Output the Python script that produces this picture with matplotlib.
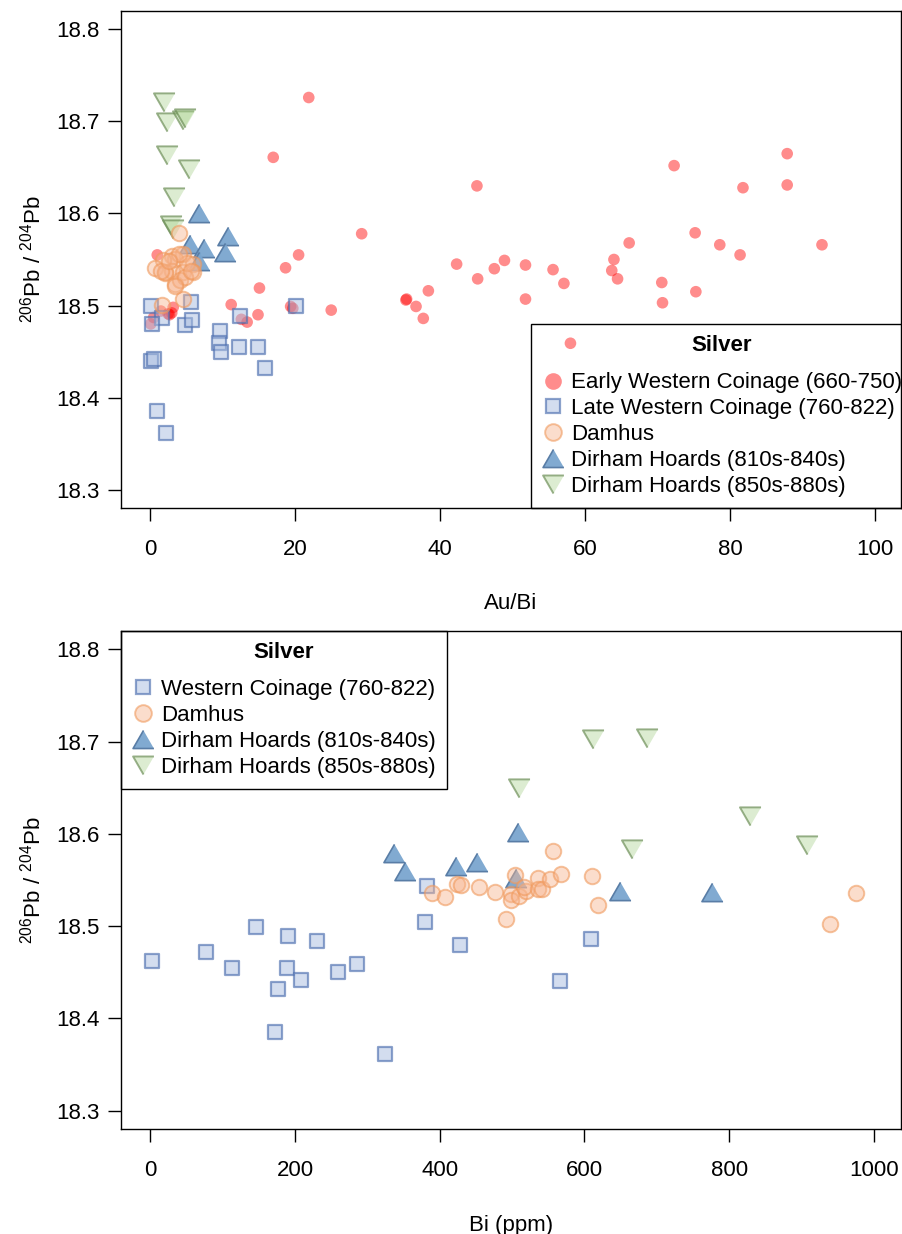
import matplotlib
matplotlib.use("Agg")
import matplotlib.pyplot as plt
from matplotlib.lines import Line2D

plt.rcParams['font.family'] = ['Liberation Sans', 'DejaVu Sans']
plt.rcParams['mathtext.fontset'] = 'custom'
plt.rcParams['mathtext.rm'] = 'Liberation Sans'
plt.rcParams['mathtext.it'] = 'Liberation Sans'

# ---------------- Top panel data (Au/Bi vs 206Pb/204Pb) ----------------
early_aubi = [21.9, 17.0, 45.1, 72.3, 87.9, 87.9, 81.8, 75.2, 78.6, 81.4, 92.7, 66.1,
              64.0, 63.7, 64.5, 57.1, 70.6, 70.7, 75.3, 58.0, 29.2, 20.5, 42.3, 45.2,
              47.5, 48.9, 51.8, 55.6, 51.8, 38.4, 35.3, 35.4, 36.7, 37.7, 25.0, 1.0,
              18.7, 15.1, 11.2, 14.9, 12.6, 13.4, 19.4, 19.7, 3.2, 2.7, 0.5, 0.1, 2.5,
              3.0, 1.5]
early_pb = [18.726, 18.661, 18.630, 18.652, 18.665, 18.631, 18.628, 18.579, 18.566,
            18.555, 18.566, 18.568, 18.550, 18.538, 18.529, 18.524, 18.525, 18.503,
            18.515, 18.459, 18.578, 18.555, 18.545, 18.529, 18.540, 18.549, 18.544,
            18.539, 18.507, 18.516, 18.506, 18.507, 18.499, 18.486, 18.495, 18.555,
            18.541, 18.519, 18.501, 18.490, 18.485, 18.482, 18.499, 18.497, 18.498,
            18.490, 18.487, 18.480, 18.491, 18.492, 18.494]

late_aubi = [0.2, 5.7, 1.7, 0.3, 4.8, 5.8, 12.4, 20.2, 9.6, 9.5, 9.8, 12.3, 14.9,
             15.8, 0.1, 0.6, 1.0, 2.2]
late_pb = [18.500, 18.504, 18.486, 18.480, 18.479, 18.484, 18.489, 18.499, 18.472,
           18.459, 18.450, 18.455, 18.455, 18.432, 18.440, 18.442, 18.385, 18.361]

damhus_aubi = [4.0, 3.0, 4.6, 3.4, 1.8, 0.7, 2.1, 3.0, 4.6, 6.0, 6.0, 3.4, 4.1, 4.8,
               5.1, 4.6, 1.6, 3.4, 5.7, 2.1, 1.5, 4.0, 2.6]
damhus_pb = [18.579, 18.554, 18.556, 18.551, 18.550, 18.541, 18.535, 18.538, 18.536,
             18.545, 18.536, 18.523, 18.528, 18.531, 18.546, 18.507, 18.501, 18.521,
             18.538, 18.536, 18.537, 18.556, 18.548]

d810_aubi = [6.8, 10.7, 5.5, 7.4, 10.4, 6.8]
d810_pb = [18.600, 18.576, 18.567, 18.563, 18.558, 18.548]

d850_aubi = [1.9, 2.3, 4.6, 4.8, 2.3, 5.4, 3.3, 2.9, 3.2]
d850_pb = [18.721, 18.699, 18.702, 18.704, 18.664, 18.648, 18.618, 18.587, 18.583]

# ---------------- Bottom panel data (Bi ppm vs 206Pb/204Pb) ----------------
west_bi = [3, 77, 113, 146, 190, 231, 189, 208, 177, 260, 286, 173, 325, 382, 379,
           428, 609, 566]
west_pb = [18.462, 18.472, 18.455, 18.499, 18.489, 18.484, 18.455, 18.442, 18.432,
           18.450, 18.459, 18.385, 18.361, 18.544, 18.504, 18.479, 18.486, 18.441]

damhus_bi = [389, 408, 424, 429, 455, 477, 504, 498, 498, 509, 519, 516, 536, 536,
             542, 552, 568, 556, 491, 611, 619, 975, 939]
damhus_pb2 = [18.536, 18.532, 18.546, 18.545, 18.542, 18.537, 18.555, 18.535, 18.528,
              18.533, 18.538, 18.542, 18.552, 18.540, 18.540, 18.551, 18.557, 18.581,
              18.508, 18.554, 18.523, 18.536, 18.502]

d810_bi = [337, 352, 423, 452, 508, 506, 649, 777]
d810_pb2 = [18.5795, 18.560, 18.565, 18.569, 18.602, 18.552, 18.538, 18.537]

d850_bi = [612, 687, 510, 829, 908, 666]
d850_pb2 = [18.703, 18.704, 18.650, 18.619, 18.588, 18.584]

top_labels = ["Early Western Coinage (660-750)", "Late Western Coinage (760-822)",
              "Damhus", "Dirham Hoards (810s-840s)", "Dirham Hoards (850s-880s)"]
bottom_labels = ["Western Coinage (760-822)", "Damhus",
                 "Dirham Hoards (810s-840s)", "Dirham Hoards (850s-880s)"]
yticks = [18.3, 18.4, 18.5, 18.6, 18.7, 18.8]

# ---------------- styles ----------------
FS = 16
up_tri = [(0, 0.866), (-1, -0.866), (1, -0.866)]
dn_tri = [(0, -0.866), (-1, 0.866), (1, 0.866)]

red_sty = dict(marker='o', s=70, facecolor=(1, 0, 0, 0.45), edgecolor='none', zorder=2)
sq_sty = dict(marker='s', s=110, facecolor=(0.66, 0.74, 0.88, 0.5),
              edgecolor=(0.31, 0.44, 0.69, 0.65), linewidths=1.6, zorder=3)
or_sty = dict(marker='o', s=125, facecolor=(0.97, 0.71, 0.56, 0.45),
              edgecolor=(0.94, 0.60, 0.36, 0.6), linewidths=1.4, zorder=5)
bt_sty = dict(marker=up_tri, s=230, facecolor=(0.48, 0.65, 0.81, 0.95),
              edgecolor=(0.35, 0.49, 0.65, 1.0), linewidths=1.2, zorder=4)
gt_sty = dict(marker=dn_tri, s=230, facecolor=(0.66, 0.82, 0.55, 0.4),
              edgecolor=(0.43, 0.56, 0.35, 0.7), linewidths=1.4, zorder=4)

def handle(sty, ms):
    return Line2D([], [], linestyle='none', marker=sty['marker'], markersize=ms,
                  markerfacecolor=sty['facecolor'], markeredgecolor=sty['edgecolor'],
                  markeredgewidth=sty.get('linewidths', 0))

fig = plt.figure(figsize=(9.02, 12.34), dpi=100)

def style_axes(ax, xticks):
    ax.set_yticks(yticks)
    ax.set_yticklabels([f"{v:.1f}" for v in yticks])
    ax.set_xticks(xticks)
    ax.tick_params(direction='out', length=9.5, width=1, labelsize=FS)
    ax.tick_params(axis='y', pad=6)
    ax.tick_params(axis='x', pad=13)
    for sp in ax.spines.values():
        sp.set_linewidth(1)
    ax.set_ylim(18.28, 18.82)
    ax.set_ylabel(r'$^{206}\mathrm{Pb}\ /\ ^{204}\mathrm{Pb}$', fontsize=FS)
    ax.yaxis.set_label_coords(-0.097, 0.5)

def make_legend(ax, handles, labels, loc, anchor):
    leg = ax.legend(handles, labels, loc=loc, bbox_to_anchor=anchor, borderaxespad=0,
                    frameon=True, fancybox=False, edgecolor='black',
                    fontsize=FS, title='Silver',
                    title_fontproperties={'weight': 'bold', 'size': FS},
                    handletextpad=0.3, labelspacing=0.22, borderpad=0.5,
                    handlelength=1.0)
    fr = leg.get_frame()
    fr.set_facecolor('none')
    fr.set_edgecolor('black')
    fr.set_linewidth(1)
    fr.set_alpha(None)
    leg._legend_box.sep = 11.5
    return leg

# ---- top ----
ax1 = fig.add_axes([121 / 902, 1 - 508 / 1234, 780 / 902, 497 / 1234])
ax1.scatter(early_aubi, early_pb, **red_sty)
ax1.scatter(late_aubi, late_pb, **sq_sty)
ax1.scatter(d810_aubi, d810_pb, **bt_sty)
ax1.scatter(d850_aubi, d850_pb, **gt_sty)
ax1.scatter(damhus_aubi, damhus_pb, **or_sty)
ax1.set_xlim(-4.0, 103.6)
style_axes(ax1, [0, 20, 40, 60, 80, 100])
ax1.set_xlabel('Au/Bi', fontsize=FS)
ax1.xaxis.set_label_coords(0.5, -0.172)

h1 = [handle(red_sty, 12), handle(sq_sty, 10), handle(or_sty, 12),
      handle(bt_sty, 15), handle(gt_sty, 15)]
make_legend(ax1, h1, top_labels, 'lower right', (1 + 12 / 780, 0))

# ---- bottom ----
ax2 = fig.add_axes([121 / 902, 1 - 1129 / 1234, 780 / 902, 498 / 1234])
ax2.scatter(west_bi, west_pb, **sq_sty)
ax2.scatter(d810_bi, d810_pb2, **bt_sty)
ax2.scatter(d850_bi, d850_pb2, **gt_sty)
ax2.scatter(damhus_bi, damhus_pb2, **or_sty)
ax2.set_xlim(-40.5, 1037.6)
style_axes(ax2, [0, 200, 400, 600, 800, 1000])
ax2.set_xlabel('Bi (ppm)', fontsize=FS)
ax2.xaxis.set_label_coords(0.5, -0.172)

h2 = [handle(sq_sty, 10), handle(or_sty, 12), handle(bt_sty, 15), handle(gt_sty, 15)]
make_legend(ax2, h2, bottom_labels, 'upper left', (0, 1))

fig.savefig('out.png', dpi=100)
